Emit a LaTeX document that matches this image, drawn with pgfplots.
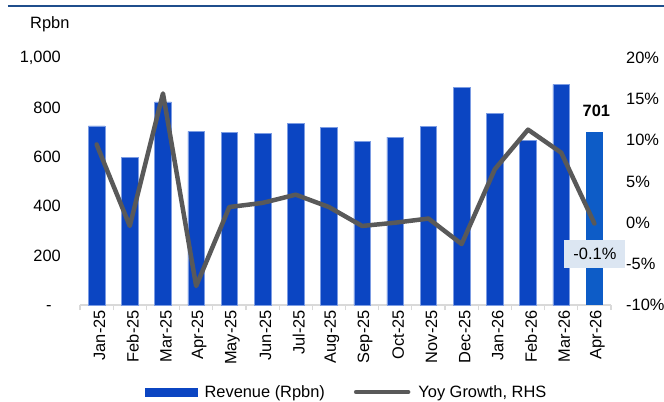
\documentclass[border=0pt]{standalone}
\usepackage{pgfplots}
\pgfplotsset{compat=1.18}
\usepackage{pgfplotstable}
\usepackage{fontspec}
\setmainfont{Liberation Sans}
\definecolor{barblue}{HTML}{0B45C2}
\definecolor{baredge}{HTML}{7C9CE3}
\definecolor{lastblue}{HTML}{0D5CC7}
\definecolor{linegrey}{HTML}{595959}
\definecolor{topblue}{HTML}{1F4E8C}
\definecolor{boxblue}{HTML}{DCE6F2}
\definecolor{axisgrey}{HTML}{D9D9D9}

\pgfplotstableread{
x rev
0 725
1 598
2 822
3 703
4 700
5 695
6 735
7 719
8 661
9 680
10 724
11 882
12 775
13 668
14 893
}\revdata

\pgfplotstableread{
x yoy
0 9.5
1 -0.4
2 15.7
3 -7.7
4 1.9
5 2.4
6 3.4
7 1.9
8 -0.4
9 0.0
10 0.5
11 -2.6
12 6.5
13 11.3
14 8.5
15 -0.1
}\yoydata

\begin{document}
\begin{tikzpicture}[x=1bp,y=1bp,font=\fontsize{16.4bp}{19bp}\selectfont]
\useasboundingbox (-80,-96) rectangle (584,305);
\draw[topblue,line width=2bp] (-72,299.3) -- (584,299.3);
\node[anchor=west,inner sep=0pt] at (-50,281) {Rpbn};

\begin{axis}[
  at={(0,0)}, anchor=south west,
  scale only axis, width=531bp, height=247bp,
  xmin=-0.5, xmax=15.5, ymin=0, ymax=1000,
  axis x line*=bottom, axis y line*=left,
  x axis line style={axisgrey,line width=1.2bp,-},
  y axis line style={draw=none},
  xtick={0,...,15},
  xticklabels={Jan-25,Feb-25,Mar-25,Apr-25,May-25,Jun-25,Jul-25,Aug-25,Sep-25,Oct-25,Nov-25,Dec-25,Jan-26,Feb-26,Mar-26,Apr-26},
  xticklabel style={rotate=90,anchor=east,inner sep=0pt,yshift=-3bp},
  major x tick style={draw=none},
  minor xtick={-0.5,0.5,...,15.5},
  minor x tick style={axisgrey,line width=1.2bp},
  minor tick length=5bp,
  major tick length=5bp,
  tick align=outside,
  ytick={0,200,400,600,800,1000},
  yticklabels={-\phantom{0},200,400,600,800,{1,000}},
  ytick style={draw=none},
  yticklabel style={anchor=east,inner sep=0pt,xshift=-14bp},
  clip=false,
]
\addplot[ybar,bar width=16.6bp,bar shift=0pt,fill=barblue,draw=baredge,line width=0.6bp] table[x=x,y=rev] {\revdata};
\addplot[ybar,bar width=16.6bp,bar shift=0pt,fill=lastblue,draw=none] coordinates {(15,701)};
\node[font=\fontsize{16.4bp}{19bp}\selectfont\bfseries,anchor=south,xshift=2bp,yshift=12bp] at (axis cs:15,701) {701};
\end{axis}

\begin{axis}[
  at={(0,0)}, anchor=south west,
  scale only axis, width=531bp, height=247bp,
  xmin=-0.5, xmax=15.5, ymin=-10, ymax=20,
  axis y line*=right, hide x axis,
  y axis line style={draw=none},
  ytick={-10,-5,0,5,10,15,20},
  yticklabels={-10\%,-5\%,0\%,5\%,10\%,15\%,20\%},
  ytick style={draw=none},
  yticklabel style={anchor=west,inner sep=0pt,xshift=15bp},
  clip=false,
  legend style={draw=none,fill=none,inner sep=0pt,
    nodes={inner sep=3bp},
    at={(65/531,-87/247)},anchor=west,
    legend columns=2,
    /tikz/every even column/.append style={column sep=26bp}},
  legend cell align=left,
]
\addlegendimage{legend image code/.code={\fill[barblue] (0bp,-4bp) rectangle (52bp,4bp); \path (56bp,0bp);}}
\addlegendentry{Revenue (Rpbn)}
\addplot[linegrey,line width=4.5bp,line join=round,line cap=round,
  legend image code/.code={\draw[linegrey,line width=4.5bp,line cap=round] (2bp,0bp) -- (54bp,0bp); \path (59bp,0bp);}]
  table[x=x,y=yoy] {\yoydata};
\addlegendentry{Yoy Growth, RHS}
\node[fill=boxblue,minimum width=61bp,minimum height=28bp,inner sep=0pt,yshift=-30.5bp,xshift=0.5bp] at (axis cs:15,-0.1) {-0.1\%};
\end{axis}
\end{tikzpicture}
\end{document}
